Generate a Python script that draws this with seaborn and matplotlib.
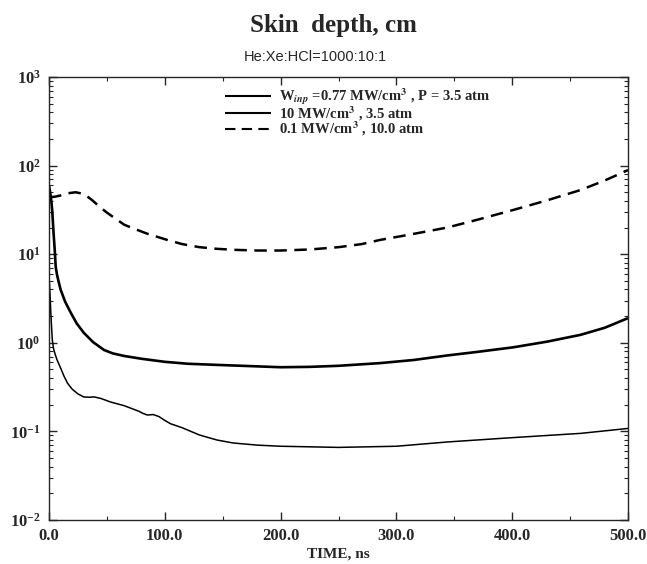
import numpy as np
import pandas as pd
import seaborn as sns
import matplotlib.pyplot as plt
from matplotlib.ticker import MultipleLocator, LogLocator, NullFormatter

# curve 1: W_inp = 0.77 MW/cm^3, P = 3.5 atm
t_a = [0, 1, 2, 2.8, 4, 5, 5.8, 7, 8.5, 10, 14, 18.7, 24, 30, 38, 47.5, 55,
       65, 80, 100, 120, 150, 175, 200, 225, 250, 286, 315, 344, 370, 401,
       430, 459, 480, 500]
d_a = [60, 50, 40, 31, 17, 11, 7.2, 5.8, 4.8, 4.0, 2.9, 2.2, 1.65, 1.3, 1.02,
       0.83, 0.76, 0.71, 0.66, 0.61, 0.58, 0.56, 0.545, 0.53, 0.535, 0.55,
       0.59, 0.64, 0.72, 0.79, 0.89, 1.03, 1.23, 1.48, 1.9]

# curve 2: 10 MW/cm^3, 3.5 atm
t_b = [0, 0.5, 1, 1.5, 2, 2.9, 4, 5.5, 7, 10, 13, 16, 20, 25, 30, 35, 39, 45,
       53, 65, 72, 78, 81, 85, 90, 95, 100, 105, 115, 130, 145, 159, 180, 200,
       250, 300, 344, 400, 459, 500]
d_b = [5.5, 4.5, 3.3, 2.3, 1.7, 1.07, 0.85, 0.73, 0.64, 0.52, 0.42, 0.35,
       0.3, 0.265, 0.245, 0.243, 0.245, 0.235, 0.215, 0.195, 0.18, 0.168,
       0.16, 0.153, 0.155, 0.147, 0.133, 0.122, 0.11, 0.091, 0.08, 0.074,
       0.07, 0.068, 0.066, 0.068, 0.076, 0.085, 0.095, 0.108]

# curve 3: 0.1 MW/cm^3, 10.0 atm
t_c = [0, 5, 10, 15, 23, 28, 33, 38, 44, 50, 55, 65, 73, 85, 102, 115, 130,
       145, 160, 180, 200, 225, 250, 270, 286, 310, 344, 370, 401, 430, 459,
       480, 500]
d_c = [44, 44.5, 46, 48.5, 50, 48.5, 45, 40, 34, 29.5, 26.5, 21.5, 19.5, 17,
       14.5, 13, 12, 11.5, 11.2, 11, 11, 11.3, 12, 13, 14.5, 16.5, 20, 24.5,
       31.6, 40.5, 53, 68, 89]

labels = [r"W$_{inp}$ =0.77 MW/cm$^3$ , P = 3.5 atm",
          r"10 MW/cm$^3$ , 3.5 atm",
          r"0.1 MW/cm$^3$ , 10.0 atm"]

df = pd.concat([
    pd.DataFrame({"t": t_a, "d": d_a, "case": labels[0]}),
    pd.DataFrame({"t": t_b, "d": d_b, "case": labels[1]}),
    pd.DataFrame({"t": t_c, "d": d_c, "case": labels[2]}),
])

sns.set_style("ticks")
plt.rcParams["font.family"] = ["Liberation Serif", "DejaVu Serif"]
plt.rcParams["mathtext.fontset"] = "stix"
plt.rcParams["font.weight"] = "bold"

fig = plt.figure(figsize=(6.47, 5.64), dpi=100)
ax = fig.add_axes([0.0757, 0.078, 0.895, 0.7855])

sns.lineplot(data=df, x="t", y="d", hue="case", style="case",
             palette=["black"] * 3, dashes=[(1, 0), (1, 0), (5, 3)],
             sort=False, estimator=None, ax=ax)
widths = [1.9, 1.1, 1.8]
for line, w in zip(ax.get_lines(), widths):
    line.set_linewidth(w)

ax.set_yscale("log")
ax.set_xlim(0, 500)
ax.set_ylim(1e-2, 1e3)
ax.xaxis.set_major_locator(MultipleLocator(100))
ax.xaxis.set_minor_locator(MultipleLocator(50))
ax.set_xticklabels([f"{v:.1f}" for v in ax.get_xticks()])
ax.yaxis.set_major_locator(LogLocator(base=10))
ax.yaxis.set_minor_locator(LogLocator(base=10, subs=np.arange(2, 10)))
ax.yaxis.set_minor_formatter(NullFormatter())
ax.tick_params(which="both", direction="in", top=True, right=True,
               labelsize=12, pad=6)
ax.tick_params(which="major", length=6, width=1)
ax.tick_params(which="minor", length=3, width=0.8)
for lab in ax.get_xticklabels() + ax.get_yticklabels():
    lab.set_fontweight("bold")
for s in ax.spines.values():
    s.set_linewidth(1.0)

ax.set_xlabel("TIME, ns", fontsize=11, fontweight="bold", labelpad=2)
ax.set_ylabel("")

h, l = ax.get_legend_handles_labels()
ax.legend(h, l, loc="upper left", bbox_to_anchor=(0.281, 1.008),
          frameon=False, handlelength=3.2, handletextpad=0.5,
          labelspacing=-0.2, prop={"weight": "bold", "size": 10.5})

fig.text(0.515, 0.955, "Skin  depth, cm", ha="center", va="center",
         fontsize=18, fontweight="bold")
fig.text(0.487, 0.899, "He:Xe:HCl=1000:10:1", ha="center", va="center",
         fontsize=10.5, fontweight="normal", family="Liberation Sans")

fig.savefig("out.png", dpi=100)
